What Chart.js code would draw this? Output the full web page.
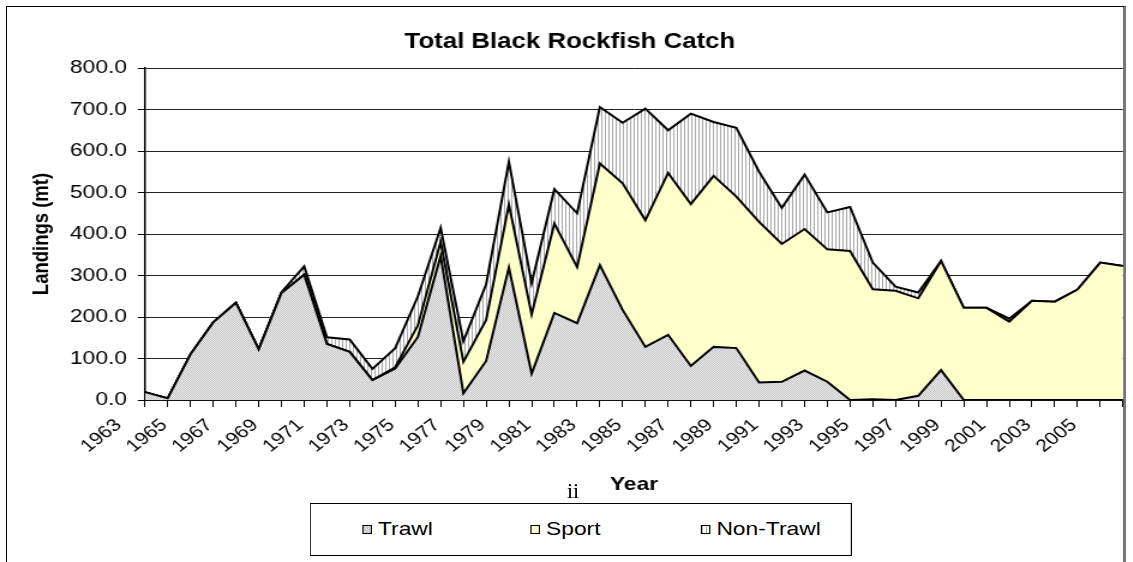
<!DOCTYPE html>
<html lang="en">
<head>
  <meta charset="UTF-8">
  <title>Total Black Rockfish Catch</title>
  <style>
    body { margin: 0; background: #fff; overflow: hidden; }
    #frame {
      position: absolute; left: 6px; top: 6px; width: 1116px; height: 620px;
      border-left: 1.5px solid #000; border-top: 1.5px solid #000; border-right: 3px solid #777;
    }
    /* the original picture is stretched sideways, so the chart is drawn narrow and widened */
    #wrap {
      position: absolute; left: 0; top: 0; width: 944px; height: 562px;
      transform: scaleX(1.2); transform-origin: 0 0;
    }
    #meuCanvas { position: absolute; left: 0; top: 0; }
    #legenda {
      position: absolute; left: 258px; top: 503px; width: 452px; height: 53px;
      box-sizing: border-box; border: 1px solid #000; background: #fff;
      font: 19px 'Liberation Sans', Arial, sans-serif; color: #000;
    }
    .item { position: absolute; top: 14px; display: flex; align-items: center; line-height: 22px; }
    .sw { width: 6px; height: 7px; border: 1px solid #000; margin-right: 5px; }
    #pag {
      position: absolute; left: 567px; top: 478px;
      font: 22px 'Liberation Serif', 'DejaVu Serif', serif; color: #000;
    }
  </style>
</head>
<body>
  <div id="frame"></div>
  <div id="wrap">
    <canvas id="meuCanvas" width="944" height="562"></canvas>
    <div id="legenda"></div>
  </div>
  <div id="pag">ii</div>

  <script src="https://cdn.jsdelivr.net/npm/chart.js"></script>
  <script>
    // anos (categorias)
    const anos = ['1963','1964','1965','1966','1967','1968','1969','1970','1971','1972',
                  '1973','1974','1975','1976','1977','1978','1979','1980','1981','1982',
                  '1983','1984','1985','1986','1987','1988','1989','1990','1991','1992',
                  '1993','1994','1995','1996','1997','1998','1999','2000','2001','2002',
                  '2003','2004','2005','2006'];

    // desembarques (mt), empilhados: Trawl embaixo, Sport, Non-Trawl em cima
    const trawl = [19, 4, 110, 187, 234, 122, 258, 302, 135, 116,
                   48, 76, 152, 347, 16, 94, 319, 64, 210, 185,
                   325, 217, 128, 157, 82, 128, 125, 42, 44, 71,
                   44, 0, 2, 0, 10, 72, 0, 0, 0, 0,
                   0, 0, 0, 0];
    const sport = [0, 0, 0, 0, 0, 0, 0, 0, 0, 0,
                   0, 3, 28, 34, 76, 99, 152, 142, 215, 135,
                   245, 305, 305, 390, 390, 412, 365, 387, 332, 341,
                   319, 359, 265, 263, 235, 263, 222, 222, 189, 239,
                   237, 266, 331, 323];
    const nonTrawl = [0, 0, 0, 0, 0, 0, 2, 20, 16, 30,
                      27, 46, 70, 34, 50, 86, 103, 76, 83, 130,
                      136, 146, 269, 103, 218, 130, 166, 121, 87, 131,
                      89, 106, 64, 10, 14, 0, 0, 0, 7, 0,
                      0, 0, 0, 0];

    const nomes = ['Trawl', 'Sport', 'Non-Trawl'];
    const fonte = "'Liberation Sans', Arial, sans-serif";

    let ctx;

    function padrao(w, h, desenha) {
        const c = document.createElement('canvas');
        c.width = w; c.height = h;
        desenha(c.getContext('2d'));
        return ctx.createPattern(c, 'repeat');
    }

    function montaLegenda() {
        const fundos = [
            'repeating-conic-gradient(#c4c4c4 0 25%, #ececec 0 50%) 0 0 / 2px 2px',
            '#ffffcc',
            'repeating-linear-gradient(90deg, #a8a8a8 0 1px, #fff 1px 3px)'
        ];
        const xs = [43, 183, 325];
        const box = document.getElementById('legenda');
        nomes.forEach((n, i) => {
            const it = document.createElement('div');
            it.className = 'item';
            it.style.left = xs[i] + 'px';
            it.innerHTML = '<span class="sw" style="background:' + fundos[i] + '"></span>' + n;
            box.appendChild(it);
        });
    }

    window.onload = function() {
        const canvas = document.getElementById('meuCanvas');
        ctx = canvas.getContext('2d');

        const pontilhado = padrao(2, 2, g => {
            g.fillStyle = '#ececec'; g.fillRect(0, 0, 2, 2);
            g.fillStyle = '#c4c4c4'; g.fillRect(0, 0, 1, 1); g.fillRect(1, 1, 1, 1);
        });
        const listrado = padrao(3, 1, g => {
            g.fillStyle = '#fff'; g.fillRect(0, 0, 3, 1);
            g.fillStyle = '#a8a8a8'; g.fillRect(0, 0, 1, 1);
        });

        const base = { borderColor: '#000', borderWidth: 2, pointRadius: 0, tension: 0 };

        new Chart(ctx, {
            type: 'line',
            data: {
                labels: anos,
                datasets: [
                    { ...base, label: nomes[0], data: trawl, backgroundColor: pontilhado, fill: 'origin' },
                    { ...base, label: nomes[1], data: sport, backgroundColor: '#ffffcc', fill: '-1' },
                    { ...base, label: nomes[2], data: nonTrawl, backgroundColor: listrado, fill: '-1' }
                ]
            },
            options: {
                responsive: false,
                animation: false,
                layout: { padding: { left: 14, right: 8.2, top: 0, bottom: 62 } },
                plugins: {
                    legend: { display: false },
                    tooltip: { enabled: false },
                    title: {
                        display: true,
                        text: 'Total Black Rockfish Catch',
                        color: '#000',
                        font: { family: fonte, size: 21.5, weight: 'bold' },
                        padding: { top: 29, bottom: 13.2 }
                    }
                },
                scales: {
                    x: {
                        afterFit: s => { s.height = 100; s.paddingLeft = 0; s.paddingRight = 0; },
                        grid: { display: true, drawOnChartArea: false, drawTicks: true, tickLength: 7, color: '#000', lineWidth: 1 },
                        border: { color: '#000', width: 1.5 },
                        ticks: {
                            autoSkip: false, minRotation: 43, maxRotation: 43,
                            labelOffset: -22, padding: 8, color: '#000',
                            font: { family: fonte, size: 17.5 },
                            callback: (v, i) => i % 2 === 0 ? anos[i] : ''
                        },
                        title: {
                            display: true, text: 'Year', color: '#000',
                            font: { family: fonte, size: 19, weight: 'bold' },
                            padding: { top: 0, bottom: 3.6 }
                        }
                    },
                    y: {
                        stacked: true,
                        min: 0, max: 800,
                        afterFit: s => { s.width = 106.8; },
                        grid: { color: '#222', lineWidth: 1, tickLength: 6, tickColor: '#000' },
                        border: { color: '#000', width: 1.5 },
                        ticks: {
                            stepSize: 100, padding: 9, color: '#000',
                            font: { family: fonte, size: 19 },
                            callback: v => Number(v).toFixed(1)
                        },
                        title: {
                            display: true, text: 'Landings (mt)', color: '#000',
                            font: { family: fonte, size: 18.5, weight: 'bold' },
                            padding: { top: 9.4, bottom: 0 }
                        }
                    }
                }
            }
        });

        montaLegenda();
    };
  </script>
</body>
</html>
